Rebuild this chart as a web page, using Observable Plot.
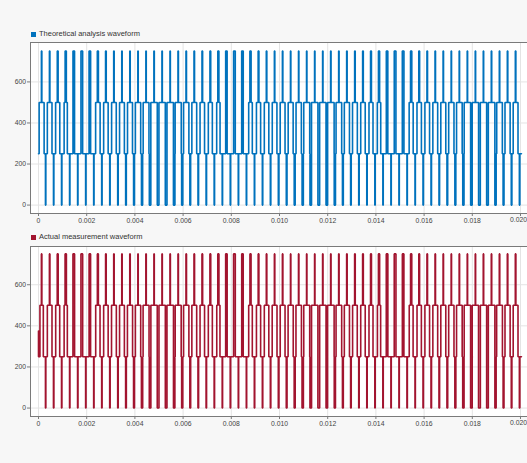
<!DOCTYPE html>
<html><head><meta charset="utf-8">
<script src="https://cdn.jsdelivr.net/npm/d3@7"></script>
<script src="https://cdn.jsdelivr.net/npm/@observablehq/plot@0.6"></script>
<style>
body{margin:0;background:#f7f7f7;font-family:"Liberation Sans",Arial,sans-serif;}
#root{position:relative;width:527px;height:463px;overflow:hidden;background:#f7f7f7;}
.legend{position:absolute;left:31px;height:8px;font-size:7.5px;line-height:8px;color:#333;white-space:nowrap;}
.legend .sw{position:absolute;left:0;top:1.5px;width:5px;height:5px;}
.legend span.t{position:absolute;left:8px;top:0;}
.panel{position:absolute;left:0;}
</style></head><body><div id="root"></div>
<script>
// ---- data ----
const timeTicks = [0,0.002,0.004,0.006,0.008,0.010,0.012,0.014,0.016,0.018,0.020];
const levelTicks = [0,200,400,600];
const carrierPeriod = 1/3000;      // s, one switching period
const pulseOffset = 0.00013;       // s, centre of the first pulse
const endTime = 0.02004;

// fraction of each switching period spent at the 500 level (else 250)
const theoDuty = [0.62,0.58,0.52,0.40,0,0,0,0.56,0.56,0.58,
  0.60,0.62,0.66,0.72,1,1,1,0.76,0.66,0.60,
  0.56,0.50,0.42,0,0,0,0.45,0.52,0.56,0.58,
  0.60,0.62,0.66,0.74,0.84,1,0.82,0.70,0.64,0.60,
  0.56,0.50,0.42,0,0,0,0.50,0.55,0.58,0.60,
  0.62,0.66,0.70,0.80,1,1,0.84,0.70,0.64,0.60];
// width of the 750 spikes (µs)
const theoHiWidth = [18,20,35,50,65,70,65,45,28,20,
  18,18,16,16,18,16,16,18,20,22,
  26,32,45,60,70,65,50,32,22,18,
  18,16,16,16,16,16,18,18,20,24,
  28,36,48,62,70,68,52,34,24,20,
  18,16,16,16,16,16,18,18,20,22];
// width of the 0 spikes (µs)
const theoLoWidth = [16,16,16,16,16,16,16,18,18,22,
  28,36,48,62,70,70,62,48,32,24,
  20,18,16,16,16,16,16,18,20,24,
  30,40,52,64,72,66,52,36,26,20,
  18,16,16,16,16,16,16,18,20,24,
  30,40,52,64,72,70,54,38,26,20];

const measStartLevel = 375;
const measDuty = [0.42,0.58,0.50,0.40,0,0,0,0.54,0.56,0.60,
  0.60,0.64,0.66,0.74,1,1,0.86,0.74,0.66,0.60,
  0.56,0.50,0.40,0,0,0,0.45,0.52,0.56,0.60,
  0.60,0.64,0.68,0.74,0.86,1,0.82,0.70,0.64,0.58,
  0.56,0.50,0.40,0,0,0,0.48,0.54,0.58,0.60,
  0.62,0.66,0.70,0.80,1,1,0.84,0.72,0.64,0.60];
const measHiWidth = [20,22,40,55,68,72,62,42,26,20,
  18,20,16,18,16,16,18,18,22,24,
  28,34,48,62,72,62,46,30,22,18,
  20,16,18,16,16,18,18,20,22,26,
  30,38,50,66,72,64,50,32,24,20,
  18,16,18,16,16,18,18,20,22,24];
const measLoWidth = [16,18,16,16,18,16,16,18,20,22,
  30,38,52,66,72,68,58,46,34,26,
  20,18,16,18,16,16,18,18,20,26,
  32,42,56,66,74,64,50,36,26,20,
  18,16,18,16,16,18,16,18,22,26,
  32,42,56,68,76,70,52,36,26,20];

// ---- build the step waveform table from the arrays ----
function buildWave(duty, hiW, loW, startLevel) {
  const T = carrierPeriod;
  const rects = [], his = [], los = [];
  duty.forEach((d, k) => {
    const c = k * T + pulseOffset;
    if (d > 0) rects.push([c - d * T / 2, c + d * T / 2]);
    his.push([c - hiW[k] * 1e-6 / 2, c + hiW[k] * 1e-6 / 2]);
    los.push([c + T / 2 - loW[k] * 1e-6 / 2, c + T / 2 + loW[k] * 1e-6 / 2]);
  });
  const inside = (arr, t) => arr.some(([a, b]) => t >= a && t < b);
  const level = t => inside(his, t) ? 750 : inside(los, t) ? 0 : inside(rects, t) ? 500 : 250;
  const bps = [0, ...rects.flat(), ...his.flat(), ...los.flat()]
    .filter(t => t >= 0 && t < endTime).sort((a, b) => a - b);
  const pts = []; let prev = null;
  for (const t of bps) { const v = level(t + 1e-9); if (v !== prev) { pts.push({t, v}); prev = v; } }
  pts.push({t: endTime, v: prev});
  if (startLevel != null) pts.unshift({t: 0, v: startLevel});
  return pts;
}

const xDomain = [-0.000332, 0.0202905];
const lastTick = timeTicks[timeTicks.length - 1];
const fmt = d => d === 0 ? "0" : d3.format(".3f")(d);
const fmtAxis = d => d === lastTick ? "" : fmt(d);

function panel(data, color, yDomain, plotH) {
  return Plot.plot({
    width: 527, height: plotH + 26, marginLeft: 30, marginRight: 0, marginTop: 6, marginBottom: 20,
    style: {background: "transparent", fontFamily: "'Liberation Sans', Arial, sans-serif", fontSize: "6.8px", color: "#444", overflow: "visible"},
    x: {domain: xDomain, ticks: timeTicks, tickFormat: fmtAxis, label: null, tickSize: 3, tickPadding: 1.5},
    y: {domain: yDomain, ticks: levelTicks, label: null, tickSize: 3, tickPadding: 1.5},
    marks: [
      Plot.frame({fill: "white", stroke: null}),
      Plot.gridX(timeTicks, {stroke: "#e4e4e4", strokeOpacity: 1}),
      Plot.gridY(levelTicks, {stroke: "#e4e4e4", strokeOpacity: 1}),
      Plot.line(data, {x: "t", y: "v", curve: "step-after", stroke: color, strokeWidth: 1.6, strokeLinejoin: "miter"}),
      Plot.ruleY([yDomain[1]], {stroke: "#7a7a7a"}),
      Plot.ruleY([yDomain[0]], {stroke: "#7a7a7a"}),
      Plot.ruleX([xDomain[0]], {stroke: "#7a7a7a"}),
      Plot.axisX({ticks: timeTicks, tickFormat: fmtAxis, tickSize: 3, tickPadding: 1.5, stroke: "#7a7a7a", fill: "#444", label: null}),
      Plot.text([lastTick], {x: d => d, text: d => fmt(d), frameAnchor: "bottom", dy: 8.5, dx: 6.5, textAnchor: "end", fill: "#444"}),
      Plot.axisY({ticks: levelTicks, tickSize: 3, tickPadding: 1.5, stroke: "#7a7a7a", fill: "#444", label: null})
    ]
  });
}

const root = document.getElementById("root");
function addLegend(top, color, text) {
  const d = document.createElement("div");
  d.className = "legend"; d.style.top = top + "px";
  d.innerHTML = `<div class="sw" style="background:${color}"></div><span class="t">${text}</span>`;
  root.appendChild(d);
}
addLegend(30, "#0072BD", "Theoretical analysis waveform");
addLegend(233, "#A2142F", "Actual measurement waveform");

const p1 = panel(buildWave(theoDuty, theoHiWidth, theoLoWidth, null), "#0072BD", [-41, 792], 171);
p1.classList.add("panel"); p1.style.top = "36px"; root.appendChild(p1);
const p2 = panel(buildWave(measDuty, measHiWidth, measLoWidth, measStartLevel), "#A2142F", [-41, 786], 170);
p2.classList.add("panel"); p2.style.top = "240px"; root.appendChild(p2);
</script></body></html>
